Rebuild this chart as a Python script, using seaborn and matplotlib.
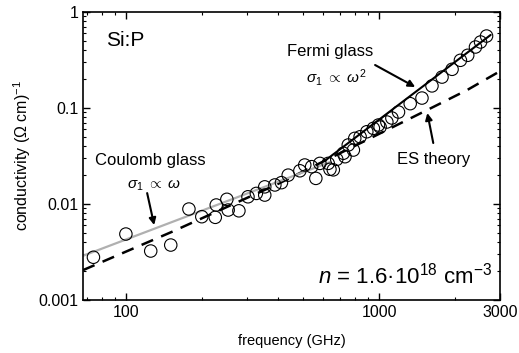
import numpy as np
import pandas as pd
import matplotlib
matplotlib.use("Agg")
import matplotlib.pyplot as plt
from matplotlib.ticker import LogLocator, NullFormatter, FixedLocator, FixedFormatter
import seaborn as sns

# measured data (frequency in GHz, conductivity in (Ohm cm)^-1)
freq = [74.2, 99.7, 125, 150, 177, 199, 225, 227, 250, 253, 279, 303, 327,
        353, 353, 387, 411, 437, 486, 508, 541, 562, 583, 629, 639, 659, 680,
        722, 733, 755, 791, 801, 841, 894, 949, 994, 1009, 1073, 1123, 1193,
        1327, 1477, 1618, 1773, 1943, 2096, 2240, 2404, 2518, 2659]
sigma = [0.00279, 0.00487, 0.00324, 0.00374, 0.00887, 0.00738, 0.00727,
         0.00977, 0.0112, 0.00866, 0.00850, 0.0119, 0.0129, 0.0151, 0.0124,
         0.0158, 0.0167, 0.0200, 0.0222, 0.0255, 0.0245, 0.0185, 0.0265,
         0.0265, 0.0230, 0.0227, 0.0292, 0.0338, 0.0311, 0.0412, 0.0365,
         0.0483, 0.0502, 0.0566, 0.0614, 0.0665, 0.0634, 0.0715, 0.0787,
         0.0908, 0.111, 0.127, 0.170, 0.210, 0.253, 0.314, 0.354, 0.432,
         0.487, 0.562]

# Coulomb glass fit (sigma ~ omega)
coulomb_f = [67.5, 640]
coulomb_s = [0.00289, 0.0274]
# Fermi glass fit (sigma ~ omega^2)
fermi_f = [610, 2760]
fermi_s = [0.0282, 0.577]
# ES theory curve
es_f = [67.5, 152, 400, 1139, 1643, 2229, 2966]
es_s = [0.00205, 0.00515, 0.0163, 0.0638, 0.103, 0.154, 0.237]

x_ticks = [100, 1000, 3000]
x_ticklabels = ["100", "1000", "3000"]
y_ticks = [0.001, 0.01, 0.1, 1]
y_ticklabels = ["0.001", "0.01", "0.1", "1"]

sns.set_theme(style="ticks")
plt.rcParams["font.family"] = ["Liberation Sans", "DejaVu Sans"]
plt.rcParams["mathtext.fontset"] = "custom"
plt.rcParams["mathtext.rm"] = "Liberation Sans"
plt.rcParams["mathtext.it"] = "Liberation Sans:italic"
plt.rcParams["mathtext.default"] = "regular"
plt.rcParams["text.color"] = "black"
plt.rcParams["axes.labelcolor"] = "black"

fig = plt.figure(figsize=(5.19, 3.53), dpi=100)
ax = fig.add_axes([0.160, 0.150, 0.803, 0.816])

df_pts = pd.DataFrame({"f": freq, "s": sigma})
df_c = pd.DataFrame({"f": coulomb_f, "s": coulomb_s})
df_fg = pd.DataFrame({"f": fermi_f, "s": fermi_s})
df_es = pd.DataFrame({"f": es_f, "s": es_s})

sns.lineplot(data=df_es, x="f", y="s", ax=ax, color="black", lw=1.8,
             linestyle=(0, (5, 3.5)), sort=False)
sns.lineplot(data=df_c, x="f", y="s", ax=ax, color="#b0b0b0", lw=1.6, sort=False)
sns.lineplot(data=df_fg, x="f", y="s", ax=ax, color="black", lw=1.5, sort=False)
sns.scatterplot(data=df_pts, x="f", y="s", ax=ax, marker="o", s=80,
                facecolor="none", edgecolor="black", linewidth=0.8, zorder=5)

ax.set_xscale("log")
ax.set_yscale("log")
ax.set_xlim(67.5, 3000)
ax.set_ylim(0.001, 1)

ax.xaxis.set_major_locator(FixedLocator(x_ticks))
ax.xaxis.set_major_formatter(FixedFormatter(x_ticklabels))
ax.xaxis.set_minor_locator(LogLocator(base=10, subs=np.arange(2, 10)))
ax.xaxis.set_minor_formatter(NullFormatter())
ax.yaxis.set_major_locator(FixedLocator(y_ticks))
ax.yaxis.set_major_formatter(FixedFormatter(y_ticklabels))
ax.yaxis.set_minor_locator(LogLocator(base=10, subs=np.arange(2, 10)))
ax.yaxis.set_minor_formatter(NullFormatter())

ax.tick_params(which="both", direction="in", top=True, right=True,
               colors="black", labelsize=11.5)
ax.tick_params(which="major", length=5, width=1)
ax.tick_params(which="minor", length=2.5, width=0.8)
for sp in ax.spines.values():
    sp.set_visible(True)
    sp.set_color("black")
    sp.set_linewidth(1.2)

ax.set_xlabel("frequency (GHz)", fontsize=10.5, labelpad=10)
ax.set_ylabel("conductivity (Ω cm)$^{-1}$", fontsize=11.5, labelpad=4)

ax.text(83, 0.51, "Si:P", fontsize=15, va="center", ha="left")
ax.text(75, 0.0287, "Coulomb glass", fontsize=12, va="center", ha="left")
ax.text(101, 0.0154, r"$\it{\sigma}_1\ \propto\ \it{\omega}$", fontsize=11,
        va="center", ha="left")
ax.text(431, 0.392, "Fermi glass", fontsize=12, va="center", ha="left")
ax.text(513, 0.21, r"$\it{\sigma}_1\ \propto\ \it{\omega}^2$", fontsize=11,
        va="center", ha="left")
ax.text(1179, 0.0294, "ES theory", fontsize=12, va="center", ha="left")
ax.text(2807, 0.00178, r"$\it{n}$ = 1.6·10$^{18}$ cm$^{-3}$", fontsize=16,
        va="center", ha="right")

arrow = dict(arrowstyle="-|>", color="black", lw=1.5, mutation_scale=10,
             shrinkA=0, shrinkB=0)
ax.annotate("", xy=(129, 0.00604), xytext=(121, 0.0130), arrowprops=arrow)
ax.annotate("", xy=(1389, 0.1655), xytext=(964, 0.2805), arrowprops=arrow)
ax.annotate("", xy=(1551, 0.0887), xytext=(1637, 0.0432), arrowprops=arrow)

fig.savefig("out.png", dpi=100)
